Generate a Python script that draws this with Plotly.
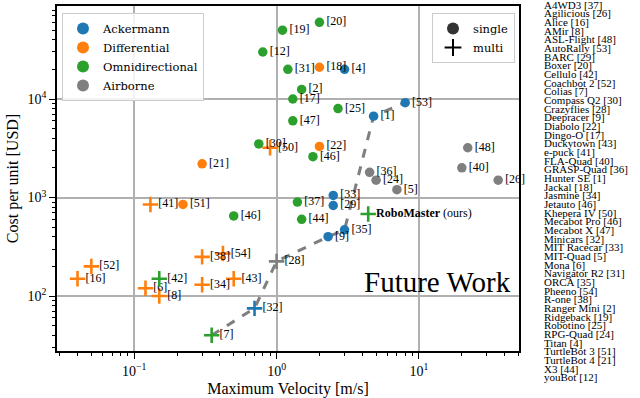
import math
import plotly.graph_objects as go

# ---------------- data ----------------
refs = ["[4]", "[53]", "[1]", "[33]", "[29]", "[35]", "[9]", "[32]",
        "[18]", "[22]", "[21]", "[51]", "[50]", "[41]", "[38]", "[54]", "[52]", "[16]", "[6]", "[8]", "[34]", "[43]",
        "[20]", "[19]", "[12]", "[31]", "[2]", "[17]", "[25]", "[47]", "[30]", "[46]", "[37]", "[44]", "[46]", "[42]", "[7]",
        "[48]", "[40]", "[36]", "[24]", "[26]", "[5]", "[28]"]
velocity = [3.0, 8.0, 4.8, 2.5, 2.5, 3.0, 2.3, 0.7,
            2.0, 2.0, 0.3, 0.22, 0.9, 0.13, 0.3, 0.42, 0.05, 0.04, 0.12, 0.15, 0.3, 0.5,
            2.0, 1.1, 0.8, 1.2, 1.5, 1.3, 2.7, 1.3, 0.75, 1.8, 1.4, 1.5, 0.5, 0.15, 0.35,
            22.0, 20.0, 4.5, 5.0, 36.0, 7.0, 1.0]
cost = [20000, 9170, 6700, 1050, 830, 470, 400, 75,
        21000, 3300, 2200, 850, 3200, 850, 250, 270, 200, 150, 120, 100, 130, 150,
        60000, 50000, 30000, 20000, 12500, 10000, 8000, 6000, 3500, 2600, 900, 600, 650, 150, 40,
        3200, 2000, 1800, 1500, 1500, 1200, 225]
category = (["Ackermann"] * 8 + ["Differential"] * 14 + ["Omnidirectional"] * 15 + ["Airborne"] * 7)
multi = [False, False, False, False, False, False, False, True,
         False, False, False, False, True, True, True, True, True, True, True, True, True, True,
         False, False, False, False, False, False, False, False, False, False, False, False, False, True, True,
         False, False, False, False, False, False, True]

ours_name = "<b>RoboMaster</b> (ours)"
ours_velocity = 4.4
ours_cost = 680

frontier = ["[7]", "[32]", "[28]", "[9]", "[35]", "[1]", "[53]"]

categories = ["Ackermann", "Differential", "Omnidirectional", "Airborne"]
colors = {"Ackermann": "#1f77b4", "Differential": "#ff7f0e",
          "Omnidirectional": "#2ca02c", "Airborne": "#7f7f7f"}

robot_list = ["A4WD3 [37]", "Agilicious [26]", "Alice [16]", "AMir [8]", "ASL-Flight [48]",
              "AutoRally [53]", "BARC [29]", "Boxer [20]", "Cellulo [42]", "Coachbot 2 [52]",
              "Colias [7]", "Compass Q2 [30]", "Crazyflies [28]", "Deepracer [9]", "Diabolo [22]",
              "Dingo-O [17]", "Duckytown [43]", "e-puck [41]", "FLA-Quad [40]", "GRASP-Quad [36]",
              "Hunter SE [1]", "Jackal [18]", "Jasmine [34]", "Jetauto [46]", "Khepera IV [50]",
              "Mecabot Pro [46]", "Mecabot X [47]", "Minicars [32]", "MIT Racecar [33]", "MIT-Quad [5]",
              "Mona [6]", "Navigator R2 [31]", "ORCA [35]", "Pheeno [54]", "R-one [38]",
              "Ranger Mini [2]", "Ridgeback [19]", "Robotino [25]", "RPG-Quad [24]", "Titan [4]",
              "TurtleBot 3 [51]", "TurtleBot 4 [21]", "X3 [44]", "youBot [12]"]

x_ticks = [0.1, 1, 10]
x_ticktext = ["10<sup>−1</sup>", "10<sup>0</sup>", "10<sup>1</sup>"]
y_ticks = [100, 1000, 10000]
y_ticktext = ["10<sup>2</sup>", "10<sup>3</sup>", "10<sup>4</sup>"]

# ---------------- figure ----------------
SERIF = "Liberation Serif"
LSERIF = "DejaVu Serif"
fig = go.Figure()

# frontier dashed line
fx = [velocity[refs.index(r)] for r in frontier]
fy = [cost[refs.index(r)] for r in frontier]
fig.add_trace(go.Scatter(x=fx, y=fy, mode="lines", showlegend=False, hoverinfo="skip",
                         line=dict(color="#7f7f7f", width=3, dash="dash")))

for cat in categories:
    for is_multi in (False, True):
        idx = [i for i in range(len(refs)) if category[i] == cat and multi[i] == is_multi]
        if not idx:
            continue
        if is_multi:
            marker = dict(symbol="cross-thin", size=11,
                          line=dict(color=colors[cat], width=2.6), color=colors[cat])
        else:
            marker = dict(symbol="circle", size=9.5, color=colors[cat], line=dict(width=0))
        fig.add_trace(go.Scatter(
            x=[velocity[i] for i in idx], y=[cost[i] for i in idx],
            text=[refs[i] for i in idx], mode="markers+text", textposition="middle right",
            textfont=dict(family=SERIF, size=12, color="black"), cliponaxis=False,
            marker=marker, showlegend=False))

# ours
fig.add_trace(go.Scatter(x=[ours_velocity], y=[ours_cost], text=[ours_name],
                         mode="markers+text", textposition="middle right", cliponaxis=False,
                         textfont=dict(family=SERIF, size=12, color="black"),
                         marker=dict(symbol="cross-thin", size=11,
                                     line=dict(color=colors["Omnidirectional"], width=2.6)),
                         showlegend=False))

# legend 1: categories
for cat in categories:
    fig.add_trace(go.Scatter(x=[None], y=[None], mode="markers", name=cat,
                             marker=dict(symbol="circle", size=10, color=colors[cat]),
                             legend="legend"))
# legend 2: single / multi
fig.add_trace(go.Scatter(x=[None], y=[None], mode="markers", name="single",
                         marker=dict(symbol="circle", size=10, color="#333333"), legend="legend2"))
fig.add_trace(go.Scatter(x=[None], y=[None], mode="markers", name="multi",
                         marker=dict(symbol="cross-thin", size=11, color="black",
                                     line=dict(color="black", width=2.6)), legend="legend2"))

def minor_vals(lo, hi):
    out = []
    for e in range(-3, 6):
        for m in range(2, 10):
            v = m * 10 ** e
            if lo <= v <= hi:
                out.append(v)
    return out

xr = [math.log10(0.0287), math.log10(50.4)]
yr = [1.442, 4.944]

axis_common = dict(type="log", showline=True, linecolor="black", linewidth=1.5, mirror=True,
                   ticks="outside", ticklen=6, tickwidth=1.2, tickcolor="black", automargin=False,
                   showgrid=True, gridcolor="#b0b0b0", gridwidth=1.5, zeroline=False,
                   tickfont=dict(family=SERIF, size=14, color="black"))

fig.update_xaxes(range=xr, tickvals=x_ticks, ticktext=x_ticktext,
                 minor=dict(tickvals=minor_vals(10 ** xr[0], 10 ** xr[1]), ticks="outside",
                            ticklen=3.5, tickwidth=1, tickcolor="black", showgrid=False),
                 title=dict(text="Maximum Velocity [m/s]", font=dict(family=SERIF, size=16, color="black"),
                            standoff=6),
                 **axis_common)
fig.update_yaxes(range=yr, tickvals=y_ticks, ticktext=y_ticktext,
                 minor=dict(tickvals=minor_vals(10 ** yr[0], 10 ** yr[1]), ticks="outside",
                            ticklen=3.5, tickwidth=1, tickcolor="black", showgrid=False),
                 title=dict(text="Cost per unit [USD]", font=dict(family=SERIF, size=16, color="black"),
                            standoff=5),
                 **axis_common)

# "Future Work" text
fig.add_annotation(x=math.log10(13.4), y=math.log10(139), xref="x", yref="y", text="Future Work",
                   showarrow=False, xanchor="center", yanchor="middle",
                   font=dict(family=SERIF, size=29, color="black"))

# robot list on the right
ML, MR, MT, MB = 57, 121, 6, 47
W, H = 640, 398
pw, ph = W - ML - MR, H - MT - MB
for i, name in enumerate(robot_list):
    py = 4.5 + i * 8.67
    fig.add_annotation(x=(542 - ML) / pw, y=1 - (py - MT) / ph, xref="paper", yref="paper",
                       text=name, showarrow=False, xanchor="left", yanchor="middle",
                       font=dict(family=SERIF, size=11, color="black"))

fig.update_layout(
    width=W, height=H, margin=dict(l=ML, r=MR, t=MT, b=MB, autoexpand=False),
    paper_bgcolor="white", plot_bgcolor="white",
    font=dict(family=SERIF, color="black"),
    legend=dict(x=(62 - ML) / pw, y=1 - (13 - MT) / ph, xanchor="left", yanchor="top",
                bgcolor="rgba(255,255,255,0.85)", bordercolor="#cccccc", borderwidth=1,
                font=dict(family=LSERIF, size=11.5, color="black"), itemsizing="constant",
                tracegroupgap=0),
    legend2=dict(x=(515 - ML) / pw, y=1 - (13 - MT) / ph, xanchor="right", yanchor="top",
                 bgcolor="rgba(255,255,255,0.85)", bordercolor="#cccccc", borderwidth=1,
                 font=dict(family=LSERIF, size=11.5, color="black"), itemsizing="constant"),
)

fig.write_html("out.html", config={"displayModeBar": False},
               post_script="document.body.style.margin='0px';")
